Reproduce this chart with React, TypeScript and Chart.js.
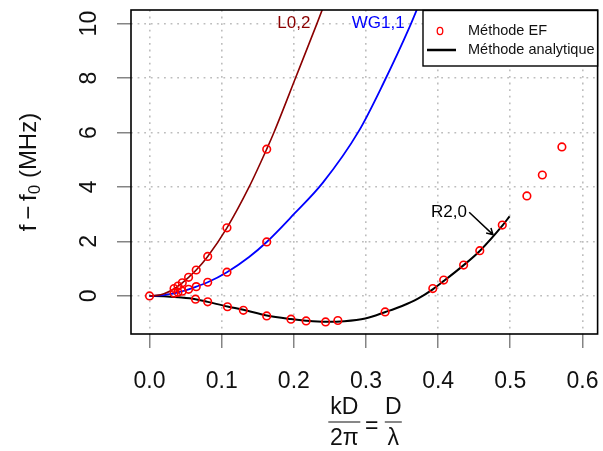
import React, { useEffect, useRef } from 'react';
import { Chart, registerables } from 'chart.js';

Chart.register(...registerables);

// ---- axes ----
const X_TICKS = [0, 0.1, 0.2, 0.3, 0.4, 0.5, 0.6];
const X_TICK_LABELS = ['0.0', '0.1', '0.2', '0.3', '0.4', '0.5', '0.6'];
const Y_TICKS = [0, 2, 4, 6, 8, 10];
const Y_TICK_LABELS = ['0', '2', '4', '6', '8', '10'];

// ---- analytic curves (Méthode analytique) ----
const L02_X = [0, 0.01, 0.02, 0.03, 0.0394, 0.0454, 0.0541, 0.0647, 0.0806, 0.1073, 0.138, 0.1624, 0.1724, 0.2023, 0.232, 0.245];
const L02_Y = [0, 0.02, 0.08, 0.2, 0.36, 0.48, 0.68, 0.95, 1.45, 2.5, 4.0, 5.39, 6.0, 8.0, 10.0, 10.9];

const WG11_X = [0, 0.01, 0.02, 0.03, 0.0394, 0.0454, 0.0541, 0.0647, 0.0806, 0.1073, 0.138, 0.1624, 0.2, 0.24, 0.29, 0.324, 0.36, 0.378];
const WG11_Y = [0, 0.01, 0.03, 0.07, 0.13, 0.17, 0.24, 0.34, 0.5, 0.87, 1.43, 1.98, 3.0, 4.15, 6.05, 7.8, 9.85, 11.0];

const R20_X = [0, 0.02, 0.04, 0.0637, 0.0806, 0.108, 0.13, 0.1624, 0.196, 0.217, 0.244, 0.27, 0.299, 0.327, 0.35, 0.372, 0.393, 0.408, 0.435, 0.458, 0.489, 0.499];
const R20_Y = [0, -0.01, -0.05, -0.12, -0.22, -0.39, -0.51, -0.72, -0.85, -0.91, -0.95, -0.93, -0.83, -0.59, -0.37, -0.1, 0.25, 0.55, 1.12, 1.66, 2.58, 2.92];

// ---- finite element points (Méthode EF) ----
const EF_L02_X = [0.034, 0.0394, 0.0454, 0.0541, 0.0647, 0.0806, 0.1073, 0.1624];
const EF_L02_Y = [0.27, 0.36, 0.48, 0.68, 0.95, 1.45, 2.5, 5.39];

const EF_WG11_X = [0.034, 0.0394, 0.0454, 0.0541, 0.0647, 0.0806, 0.1073, 0.1624];
const EF_WG11_Y = [0.1, 0.13, 0.17, 0.24, 0.34, 0.5, 0.87, 1.98];

const EF_R20_X = [0, 0.0637, 0.0806, 0.108, 0.13, 0.1624, 0.196, 0.217, 0.244, 0.261, 0.3265, 0.3926, 0.4077, 0.4353, 0.4577, 0.4889, 0.523, 0.5444, 0.5715];
const EF_R20_Y = [0, -0.12, -0.22, -0.4, -0.53, -0.735, -0.857, -0.92, -0.955, -0.905, -0.588, 0.27, 0.58, 1.13, 1.66, 2.6, 3.67, 4.44, 5.47];

// ---- texts ----
const LEGEND_EF = 'Méthode EF';
const LEGEND_AN = 'Méthode analytique';
const LABEL_L02 = 'L0,2';
const LABEL_WG11 = 'WG1,1';
const LABEL_R20 = 'R2,0';

const FONT = '"Liberation Sans", Arial, Helvetica, sans-serif';

const pts = (xs: number[], ys: number[]) => xs.map((x, i) => ({ x, y: ys[i] }));

export default function App() {
  const ref = useRef<HTMLCanvasElement | null>(null);

  useEffect(() => {
    const canvas = ref.current;
    if (!canvas) return;

    const decor = {
      id: 'decor',
      afterDraw(chart: any) {
        const ctx: CanvasRenderingContext2D = chart.ctx;
        const a = chart.chartArea;
        const xs = chart.scales.x;
        const ys = chart.scales.y;
        ctx.save();
        ctx.setLineDash([]);

        // plot box
        ctx.strokeStyle = '#000';
        ctx.lineWidth = 1.6;
        ctx.strokeRect(a.left, a.top, a.right - a.left, a.bottom - a.top);

        // x tick labels
        ctx.fillStyle = '#111';
        ctx.font = `23px ${FONT}`;
        ctx.textAlign = 'center';
        ctx.textBaseline = 'alphabetic';
        X_TICKS.forEach((v, i) => {
          ctx.fillText(X_TICK_LABELS[i], xs.getPixelForValue(v), a.bottom + 54);
        });

        // y tick labels (rotated, parallel to axis)
        Y_TICKS.forEach((v, i) => {
          ctx.save();
          ctx.translate(a.left - 35, ys.getPixelForValue(v));
          ctx.rotate(-Math.PI / 2);
          ctx.fillText(Y_TICK_LABELS[i], 0, 0);
          ctx.restore();
        });

        // y title: f − f0 (MHz)
        {
          const cy = (a.top + a.bottom) / 2;
          const big = `24px ${FONT}`;
          const small = `17px ${FONT}`;
          const parts: [string, string, number][] = [
            ['f', big, 0],
            ['\u2009\u2212\u2009', big, 0],
            ['f', big, 0],
            ['0', small, 4],
            [' (MHz)', big, 0],
          ];
          let total = 0;
          const widths = parts.map(([t, f]) => {
            ctx.font = f;
            const w = ctx.measureText(t).width;
            total += w;
            return w;
          });
          ctx.save();
          ctx.translate(36, cy);
          ctx.rotate(-Math.PI / 2);
          ctx.textAlign = 'left';
          ctx.fillStyle = '#111';
          let x = -total / 2;
          parts.forEach(([t, f, dy], i) => {
            ctx.font = f;
            ctx.fillText(t, x, dy);
            x += widths[i];
          });
          ctx.restore();
        }

        // x title: kD/2π = D/λ
        {
          const cx = (a.left + a.right) / 2;
          ctx.font = `23px ${FONT}`;
          ctx.textAlign = 'center';
          ctx.fillStyle = '#111';
          const f1 = cx - 20;
          const f2 = cx + 29;
          const numY = 414;
          const denY = 445;
          const lineY = 422;
          ctx.fillText('kD', f1, numY);
          ctx.fillText('2\u03c0', f1, denY);
          ctx.fillText('D', f2, numY);
          ctx.fillText('\u03bb', f2, denY);
          ctx.fillText('=', cx + 7.5, 433);
          ctx.strokeStyle = '#111';
          ctx.lineWidth = 1.2;
          ctx.beginPath();
          ctx.moveTo(f1 - 16, lineY);
          ctx.lineTo(f1 + 16, lineY);
          ctx.moveTo(f2 - 8.5, lineY);
          ctx.lineTo(f2 + 8.5, lineY);
          ctx.stroke();
        }

        // mode labels
        ctx.font = `17px ${FONT}`;
        ctx.textAlign = 'center';
        ctx.textBaseline = 'middle';
        ctx.fillStyle = '#8b0000';
        ctx.fillText(LABEL_L02, xs.getPixelForValue(0.2), ys.getPixelForValue(10));
        ctx.fillStyle = '#0000ff';
        ctx.fillText(LABEL_WG11, xs.getPixelForValue(0.317), ys.getPixelForValue(10));
        ctx.fillStyle = '#000';
        ctx.fillText(LABEL_R20, xs.getPixelForValue(0.415), ys.getPixelForValue(3.07));

        // arrow for R2,0
        {
          const x1 = xs.getPixelForValue(0.443);
          const y1 = ys.getPixelForValue(3.07);
          const x2 = xs.getPixelForValue(0.476);
          const y2 = ys.getPixelForValue(2.25);
          const ang = Math.atan2(y2 - y1, x2 - x1);
          const L = 7;
          ctx.strokeStyle = '#000';
          ctx.lineWidth = 1.5;
          ctx.beginPath();
          ctx.moveTo(x1, y1);
          ctx.lineTo(x2, y2);
          ctx.moveTo(x2 - L * Math.cos(ang - Math.PI / 6), y2 - L * Math.sin(ang - Math.PI / 6));
          ctx.lineTo(x2, y2);
          ctx.lineTo(x2 - L * Math.cos(ang + Math.PI / 6), y2 - L * Math.sin(ang + Math.PI / 6));
          ctx.stroke();
        }

        // legend
        {
          const lx = 423;
          const ly = a.top + 0.5;
          const lw = a.right - lx;
          const lh = 55.5;
          ctx.fillStyle = '#fff';
          ctx.fillRect(lx, ly, lw, lh);
          ctx.strokeStyle = '#000';
          ctx.lineWidth = 1.4;
          ctx.strokeRect(lx, ly, lw, lh);
          // EF symbol
          ctx.strokeStyle = '#ff0000';
          ctx.lineWidth = 1.3;
          ctx.beginPath();
          ctx.ellipse(440, 31, 2.8, 3.6, 0, 0, Math.PI * 2);
          ctx.stroke();
          // analytic line
          ctx.strokeStyle = '#000';
          ctx.lineWidth = 2.5;
          ctx.beginPath();
          ctx.moveTo(427, 50);
          ctx.lineTo(456, 50);
          ctx.stroke();
          ctx.fillStyle = '#111';
          ctx.font = `14.5px ${FONT}`;
          ctx.textAlign = 'left';
          ctx.textBaseline = 'middle';
          ctx.fillText(LEGEND_EF, 468, 31);
          ctx.fillText(LEGEND_AN, 468, 50);
        }

        ctx.restore();
      },
    };

    const gridCommon = {
      display: true,
      color: '#bdbdbd',
      lineWidth: 1.6,
      drawTicks: true,
      tickLength: 14,
      tickColor: '#666',
      tickWidth: 1.2,
      tickBorderDash: [],
    };

    const marker = {
      showLine: false,
      pointRadius: 3.8,
      pointHoverRadius: 3.8,
      pointBorderColor: '#ff0000',
      pointBackgroundColor: 'rgba(0,0,0,0)',
      pointBorderWidth: 1.6,
      order: 0,
    };

    const curve = {
      showLine: true,
      pointRadius: 0,
      pointHoverRadius: 0,
      cubicInterpolationMode: 'monotone',
      fill: false,
      order: 5,
    };

    const chart = new Chart(canvas, {
      type: 'scatter',
      data: {
        datasets: [
          { label: 'EF L0,2', data: pts(EF_L02_X, EF_L02_Y), ...marker },
          { label: 'EF WG1,1', data: pts(EF_WG11_X, EF_WG11_Y), ...marker },
          { label: 'EF R2,0', data: pts(EF_R20_X, EF_R20_Y), ...marker },
          { label: LABEL_L02, data: pts(L02_X, L02_Y), borderColor: '#8b0000', borderWidth: 1.6, ...curve },
          { label: LABEL_WG11, data: pts(WG11_X, WG11_Y), borderColor: '#0000ff', borderWidth: 1.8, ...curve },
          { label: LABEL_R20, data: pts(R20_X, R20_Y), borderColor: '#000000', borderWidth: 2, ...curve },
        ] as any,
      },
      options: {
        responsive: false,
        maintainAspectRatio: false,
        animation: false,
        devicePixelRatio: 1,
        events: [],
        layout: { padding: { left: 0, top: 10, right: 2, bottom: 0 } },
        plugins: { legend: { display: false }, tooltip: { enabled: false } },
        scales: {
          x: {
            type: 'linear',
            position: 'bottom',
            min: -0.0257,
            max: 0.621,
            afterBuildTicks: (s: any) => {
              s.ticks = X_TICKS.map((v) => ({ value: v }));
            },
            afterFit: (s: any) => {
              s.height = 117;
            },
            ticks: { display: false },
            grid: gridCommon,
            border: { display: false, dash: [1.8, 4.8] },
          },
          y: {
            type: 'linear',
            position: 'left',
            min: -1.4,
            max: 10.5,
            afterBuildTicks: (s: any) => {
              s.ticks = Y_TICKS.map((v) => ({ value: v }));
            },
            afterFit: (s: any) => {
              s.width = 131;
            },
            ticks: { display: false },
            grid: gridCommon,
            border: { display: false, dash: [1.8, 4.8] },
          },
        },
      } as any,
      plugins: [decor],
    });

    return () => chart.destroy();
  }, []);

  return (
    <div style={{ position: 'fixed', left: 0, top: 0, width: 603, height: 451, background: '#fff' }}>
      <canvas ref={ref} width={603} height={451} style={{ display: 'block', width: 603, height: 451 }} />
    </div>
  );
}
